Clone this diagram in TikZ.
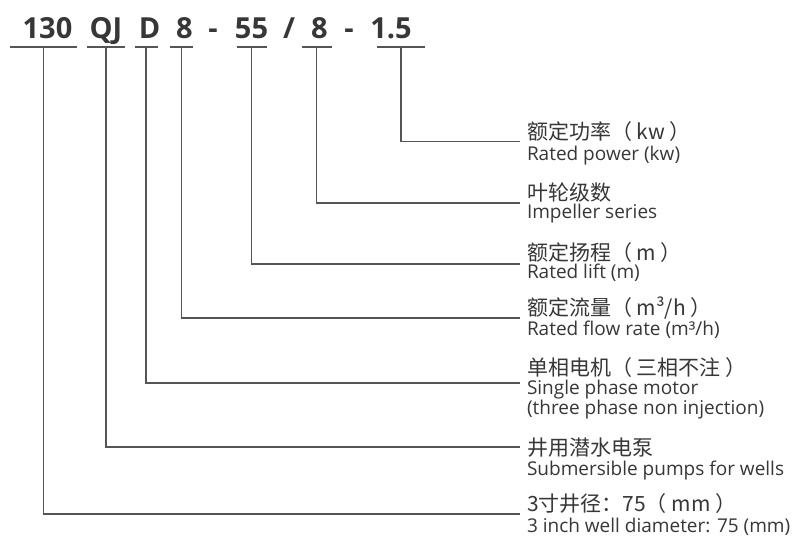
\documentclass[tikz,border=0pt]{standalone}
\usepackage{fontspec}
\setmainfont{Open Sans}
\newfontfamily\cjkfont{Noto Sans CJK SC}
\begin{document}
\begin{tikzpicture}[x=1pt,y=-1pt,
  code/.style={text=textColor,anchor=base,inner sep=0pt,outer sep=0pt,font=\fontsize{29}{29}\selectfont\bfseries},
  bar/.style={inner sep=0pt,outer sep=0pt,minimum height=0pt},
  rule/.style={draw=drawColor,line width=1.2pt,line join=miter},
  cn/.style={text=textColor,anchor=base west,inner sep=0pt,outer sep=0pt,font=\cjkfont\fontsize{21}{21}\selectfont},
  en/.style={text=textColor,anchor=base west,inner sep=0pt,outer sep=0pt,align=left,font=\fontsize{19}{17}\selectfont}]
\definecolor{fillColor}{RGB}{255,255,255}
\definecolor{drawColor}{RGB}{85,85,85}
\definecolor{textColor}{RGB}{55,55,55}
\path[use as bounding box,fill=fillColor] (0,0) rectangle (800,553);

\node[code] (c130) at ( 47.5,39) {130};
\node[code] (cqj)  at (106.0,39) {QJ};
\node[code] (cd)   at (149.5,39) {D};
\node[code] (cq)   at (184.5,39) {8};
\node[code] (s1)   at (213.0,39) {-};
\node[code] (ch)   at (251.5,39) {55};
\node[code] (s2)   at (289.0,39) {/};
\node[code] (cn8)  at (319.5,39) {8};
\node[code] (s3)   at (349.0,39) {-};
\node[code] (cp)   at (391.0,39) {1.5};

\node[bar,minimum width=67pt] (u130) at ( 43.5,47) {};
\node[bar,minimum width=38pt] (uqj)  at (106.0,47) {};
\node[bar,minimum width=23pt] (ud)   at (146.0,47) {};
\node[bar,minimum width=23pt] (uq)   at (181.5,47) {};
\node[bar,minimum width=30pt] (uh)   at (251.5,47) {};
\node[bar,minimum width=30pt] (un8)  at (316.5,47) {};
\node[bar,minimum width=48pt] (up)   at (401.0,47) {};

\draw[rule] (u130.west) -- (u130.east);
\draw[rule] (uqj.west) -- (uqj.east);
\draw[rule] (ud.west) -- (ud.east);
\draw[rule] (uq.west) -- (uq.east);
\draw[rule] (uh.west) -- (uh.east);
\draw[rule] (un8.west) -- (un8.east);
\draw[rule] (up.west) -- (up.east);

\coordinate (ep)   at (520,141.5);
\coordinate (en8)  at (520,203);
\coordinate (eh)   at (520,264);
\coordinate (eq)   at (520,318);
\coordinate (ed)   at (520,383);
\coordinate (eqj)  at (520,447);
\coordinate (e130) at (520,514);

\draw[rule] (up.center) |- (ep);
\draw[rule] (un8.center) |- (en8);
\draw[rule] (uh.center) |- (eh);
\draw[rule] (uq.center) |- (eq);
\draw[rule] (ud.center) |- (ed);
\draw[rule] (uqj.center) |- (eqj);
\draw[rule] (u130.center) |- (e130);

\node[cn] (lpcn)   at (527,139.5) {额定功率（ kw ）};
\node[en] (lpen)   at (527,161) {Rated power (kw)};
\node[cn] (ln8cn)  at (527,200.5) {叶轮级数};
\node[en] (ln8en)  at (527,219) {Impeller series};
\node[cn] (lhcn)   at (527,260.5) {额定扬程（ m ）};
\node[en] (lhen)   at (527,279) {Rated lift (m)};
\node[cn] (lqcn)   at (527,315.5) {额定流量（ m³/h ）};
\node[en] (lqen)   at (527,335) {Rated flow rate (m³/h)};
\node[cn] (ldcn)   at (527,375.5) {单相电机（ 三相不注 ）};
\node[en] (lden)   at (527,414) {Single phase motor\\(three phase non injection)};
\node[cn] (lqjcn)  at (527,455.5) {井用潜水电泵};
\node[en] (lqjen)  at (527,475) {Submersible pumps for wells};
\node[cn] (l130cn) at (527,511.5) {3寸井径：75（ mm ）};
\node[en] (l130en) at (527,532) {3 inch well diameter: 75 (mm)};
\end{tikzpicture}
\end{document}
